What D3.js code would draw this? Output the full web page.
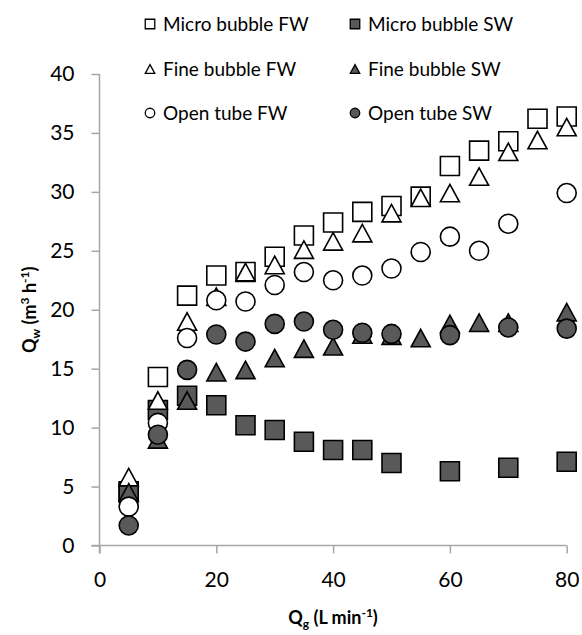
<!DOCTYPE html>
<html>
<head>
<meta charset="utf-8">
<script src="https://cdn.jsdelivr.net/npm/d3@7"></script>
<style>
  html, body { margin: 0; padding: 0; background: #fff; }
  svg { display: block; }
  text { font-family: Lato, "Open Sans", sans-serif; fill: #000; }
</style>
</head>
<body>
<svg id="chart" width="582" height="635"></svg>
<script>
// Gas flow rate Qg (L/min) and water flow rate Qw (m3/h) per aerator type
const microFW_x = [5, 10, 15, 20, 25, 30, 35, 40, 45, 50, 55, 60, 65, 70, 75, 80];
const microFW_y = [4.6, 14.3, 21.2, 22.9, 23.2, 24.5, 26.3, 27.4, 28.3, 28.8, 29.6, 32.2, 33.5, 34.3, 36.2, 36.4];

const microSW_x = [5, 10, 15, 20, 25, 30, 35, 40, 45, 50, 60, 70, 80];
const microSW_y = [4.5, 11.5, 12.7, 11.9, 10.2, 9.8, 8.8, 8.1, 8.1, 7.0, 6.3, 6.6, 7.1];

const fineFW_x = [5, 10, 15, 20, 25, 30, 35, 40, 45, 50, 55, 60, 65, 70, 75, 80];
const fineFW_y = [5.8, 12.3, 19.0, 21.1, 23.2, 23.8, 25.1, 25.8, 26.5, 28.2, 29.5, 29.9, 31.3, 33.4, 34.4, 35.5];

const fineSW_x = [5, 10, 15, 20, 25, 30, 35, 40, 45, 50, 55, 60, 65, 70, 80];
const fineSW_y = [4.5, 9.0, 12.3, 14.7, 14.9, 15.9, 16.7, 16.9, 17.9, 17.8, 17.6, 18.8, 18.9, 18.9, 19.8];

const openFW_x = [5, 10, 15, 20, 25, 30, 35, 40, 45, 50, 55, 60, 65, 70, 80];
const openFW_y = [3.3, 10.4, 17.6, 20.8, 20.7, 22.1, 23.2, 22.5, 22.9, 23.5, 24.9, 26.2, 25.0, 27.3, 29.9];

const openSW_x = [5, 10, 15, 20, 25, 30, 35, 40, 45, 50, 60, 70, 80];
const openSW_y = [1.7, 9.4, 14.9, 17.9, 17.3, 18.8, 19.0, 18.3, 18.05, 17.95, 17.85, 18.5, 18.4];

const seriesNames = ["Micro bubble FW", "Micro bubble SW", "Fine bubble FW", "Fine bubble SW", "Open tube FW", "Open tube SW"];
const xTicks = [0, 20, 40, 60, 80];
const yTicks = [0, 5, 10, 15, 20, 25, 30, 35, 40];

const DARK = "#595959";
const AXIS = "#a6a6a6";

// marker shapes; size = full width of the marker in px
const square = { draw(ctx, s) { const h = s / 2; ctx.rect(-h, -h, s, s); } };
const circle = { draw(ctx, s) { const r = s / 2; ctx.moveTo(r, 0); ctx.arc(0, 0, r, 0, 2 * Math.PI); } };
const triangle = { draw(ctx, s) { const h = s / 2, t = s * 0.92 / 2; ctx.moveTo(0, -t); ctx.lineTo(h, t); ctx.lineTo(-h, t); ctx.closePath(); } };

const series = [
  { name: seriesNames[0], xs: microFW_x, ys: microFW_y, shape: square, fill: "#fff" },
  { name: seriesNames[1], xs: microSW_x, ys: microSW_y, shape: square, fill: DARK },
  { name: seriesNames[2], xs: fineFW_x, ys: fineFW_y, shape: triangle, fill: "#fff" },
  { name: seriesNames[3], xs: fineSW_x, ys: fineSW_y, shape: triangle, fill: DARK },
  { name: seriesNames[4], xs: openFW_x, ys: openFW_y, shape: circle, fill: "#fff" },
  { name: seriesNames[5], xs: openSW_x, ys: openSW_y, shape: circle, fill: DARK }
];

const svg = d3.select("#chart");
const x = d3.scaleLinear().domain([0, 80]).range([99.5, 566.7]);
const y = d3.scaleLinear().domain([0, 40]).range([545.5, 74]);

// axes
const xAxis = svg.append("g").attr("transform", `translate(0,${y(0)})`)
  .call(d3.axisBottom(x).tickValues(xTicks).tickSize(8).tickPadding(19));
const yAxis = svg.append("g").attr("transform", `translate(${x(0)},0)`)
  .call(d3.axisLeft(y).tickValues(yTicks).tickSize(8).tickPadding(17));
[xAxis, yAxis].forEach(g => {
  g.select(".domain").remove();
  g.selectAll(".tick line").attr("stroke", AXIS).attr("stroke-width", 1.5);
  g.selectAll(".tick text").attr("font-family", "Lato, sans-serif").attr("font-size", 21).attr("fill", "#000");
});
// axis lines, crossing past each other like tick marks
svg.append("line").attr("x1", x(0) - 8).attr("x2", x(80)).attr("y1", y(0)).attr("y2", y(0))
  .attr("stroke", AXIS).attr("stroke-width", 1.5);
svg.append("line").attr("x1", x(0)).attr("x2", x(0)).attr("y1", y(40)).attr("y2", y(0) + 8)
  .attr("stroke", AXIS).attr("stroke-width", 1.5);

// data markers
const plot = svg.append("g");
series.forEach(s => {
  const pts = s.xs.map((v, i) => [v, s.ys[i]]);
  plot.append("g").selectAll("path").data(pts).join("path")
    .attr("transform", d => `translate(${x(d[0])},${y(d[1])})`)
    .attr("d", d3.symbol().type(s.shape).size(19))
    .attr("fill", s.fill).attr("stroke", "#000").attr("stroke-width", 1.6);
});

// legend: two columns, three rows
const legendCols = [150, 355];
const legendRows = [24, 69, 113];
series.forEach((s, i) => {
  const lx = legendCols[i % 2], ly = legendRows[Math.floor(i / 2)];
  const g = svg.append("g").attr("transform", `translate(${lx},${ly})`);
  g.append("path").attr("d", d3.symbol().type(s.shape).size(9.5)())
    .attr("fill", s.fill).attr("stroke", "#000").attr("stroke-width", 1.3);
  g.append("text").attr("x", 13).attr("y", 0).attr("dy", "0.35em")
    .attr("font-size", 19).text(s.name);
});

// axis titles
const xt = svg.append("text").attr("x", 333).attr("y", 624).attr("text-anchor", "middle")
  .attr("font-size", 18).attr("font-weight", "bold");
xt.append("tspan").text("Q");
xt.append("tspan").attr("font-size", 12).attr("dy", 4).text("g");
xt.append("tspan").attr("dy", -4).text(" (L min");
xt.append("tspan").attr("font-size", 12).attr("dy", -7).text("-1");
xt.append("tspan").attr("dy", 7).text(")");

const yt = svg.append("text").attr("transform", `translate(36,${(y(0) + y(40)) / 2}) rotate(-90)`)
  .attr("text-anchor", "middle").attr("font-size", 18).attr("font-weight", "bold");
yt.append("tspan").text("Q");
yt.append("tspan").attr("font-size", 12).attr("dy", 4).text("w");
yt.append("tspan").attr("dy", -4).text(" (m");
yt.append("tspan").attr("font-size", 12).attr("dy", -7).text("3");
yt.append("tspan").attr("dy", 7).text(" h");
yt.append("tspan").attr("font-size", 12).attr("dy", -7).text("-1");
yt.append("tspan").attr("dy", 7).text(")");
</script>
</body>
</html>
